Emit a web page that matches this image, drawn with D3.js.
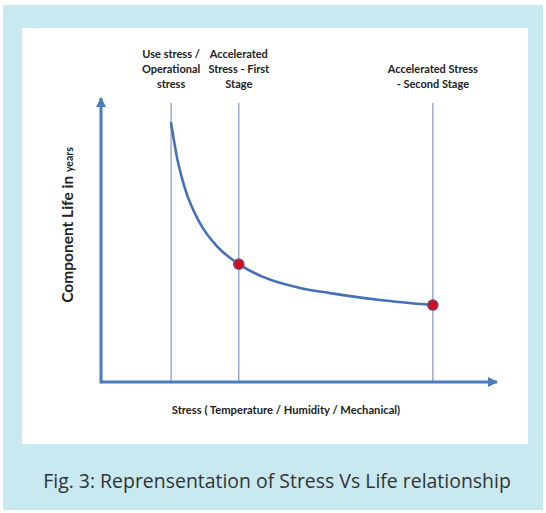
<!DOCTYPE html>
<html>
<head>
<meta charset="utf-8">
<script src="https://cdn.jsdelivr.net/npm/d3@7/dist/d3.min.js"></script>
<style>
  html, body { margin: 0; padding: 0; background: #ffffff; }
  svg { display: block; }
</style>
</head>
<body>
<svg id="chart" width="546" height="513"></svg>
<script>
// Stress levels (arbitrary units) where the vertical reference lines sit
const stageStress = [1.77, 3.48, 8.38];
const stageLabels = [
  ["Use stress /", "Operational", "stress"],
  ["Accelerated", "Stress - First", "Stage"],
  ["Accelerated Stress", "- Second Stage"]
];
// Life vs stress curve
const curveStress = [1.77, 1.92, 2.12, 2.50, 2.95, 3.48, 4.09, 5.03, 5.78, 7.05, 8.38];
const curveLife   = [9.12, 7.90, 6.82, 5.59, 4.75, 4.15, 3.70, 3.31, 3.13, 2.89, 2.71];
// Points highlighted at the accelerated stages
const markStress = [3.48, 8.38];
const markLife   = [4.15, 2.71];

const axisMax = 10;
const lineTop = 9.82;

const svg = d3.select("#chart");

// Panel framing
svg.append("rect").attr("x", 3).attr("y", 5).attr("width", 540).attr("height", 505)
  .attr("fill", "#c8e9f0");
svg.append("rect").attr("x", 22).attr("y", 28).attr("width", 506).attr("height", 416)
  .attr("fill", "#ffffff");

const x = d3.scaleLinear().domain([0, axisMax]).range([101, 497]);
const y = d3.scaleLinear().domain([0, axisMax]).range([382, 98]);

const axisColor = "#4a7cbf";
const defs = svg.append("defs");
defs.append("marker")
  .attr("id", "arrow")
  .attr("viewBox", "0 0 10 10")
  .attr("refX", 9).attr("refY", 5)
  .attr("markerWidth", 3.4).attr("markerHeight", 3.4)
  .attr("markerUnits", "strokeWidth")
  .attr("orient", "auto")
  .append("path").attr("d", "M0,0 L10,5 L0,10 Z").attr("fill", axisColor);

// Vertical stage lines
svg.append("g").selectAll("line").data(stageStress).join("line")
  .attr("x1", d => x(d)).attr("x2", d => x(d))
  .attr("y1", y(0)).attr("y2", y(lineTop))
  .attr("stroke", "#8e9dc9").attr("stroke-width", 1.3);

// Axes with arrowheads
svg.append("line")
  .attr("x1", x(0)).attr("y1", y(0)).attr("x2", x(axisMax)).attr("y2", y(0))
  .attr("stroke", axisColor).attr("stroke-width", 3).attr("marker-end", "url(#arrow)");
svg.append("line")
  .attr("x1", x(0)).attr("y1", y(0) + 1.5).attr("x2", x(0)).attr("y2", y(axisMax))
  .attr("stroke", axisColor).attr("stroke-width", 3).attr("marker-end", "url(#arrow)");

// Life curve
const pts = curveStress.map((s, i) => [s, curveLife[i]]);
svg.append("path")
  .datum(pts)
  .attr("fill", "none")
  .attr("stroke", "#4470b8")
  .attr("stroke-width", 2.6)
  .attr("stroke-linecap", "round")
  .attr("d", d3.line().x(d => x(d[0])).y(d => y(d[1])).curve(d3.curveMonotoneX));

// Stage markers
svg.append("g").selectAll("circle").data(markStress).join("circle")
  .attr("cx", d => x(d)).attr("cy", (d, i) => y(markLife[i]))
  .attr("r", 5.2)
  .attr("fill", "#d0111f")
  .attr("stroke", "#6a4a8a").attr("stroke-width", 1.2);

// Stage labels
const labelFont = "Lato, 'Open Sans', sans-serif";
const rowY = [54, 69, 84];
stageLabels.forEach((lines, i) => {
  const offset = 3 - lines.length;
  const t = svg.append("text")
    .attr("text-anchor", "middle")
    .attr("font-family", labelFont)
    .attr("font-weight", "bold")
    .attr("font-size", 11)
    .attr("fill", "#222");
  lines.forEach((ln, j) => {
    t.append("tspan").attr("x", x(stageStress[i])).attr("y", rowY[j + offset] + 4).text(ln);
  });
});

// Axis titles
svg.append("text")
  .attr("x", 286).attr("y", 414)
  .attr("text-anchor", "middle")
  .attr("font-family", labelFont).attr("font-weight", "bold")
  .attr("font-size", 11.2).attr("fill", "#222")
  .text("Stress ( Temperature / Humidity / Mechanical)");

const yt = svg.append("text")
  .attr("transform", "translate(73,225) rotate(-90)")
  .attr("text-anchor", "middle")
  .attr("font-family", labelFont).attr("font-weight", "bold")
  .attr("font-size", 15.5).attr("fill", "#222");
yt.append("tspan").text("Component Life in ");
yt.append("tspan").attr("font-size", 10.5).text("years");

// Caption
const cap = svg.append("text")
  .attr("x", 277).attr("y", 488)
  .attr("text-anchor", "middle")
  .attr("font-family", "'Open Sans', 'Noto Sans', sans-serif")
  .attr("font-size", 20).attr("fill", "#333")
  .text("Fig. 3: Reprensentation of Stress Vs Life relationship");
const w = cap.node().getComputedTextLength();
cap.attr("font-size", 20 * 468 / w);
</script>
</body>
</html>
